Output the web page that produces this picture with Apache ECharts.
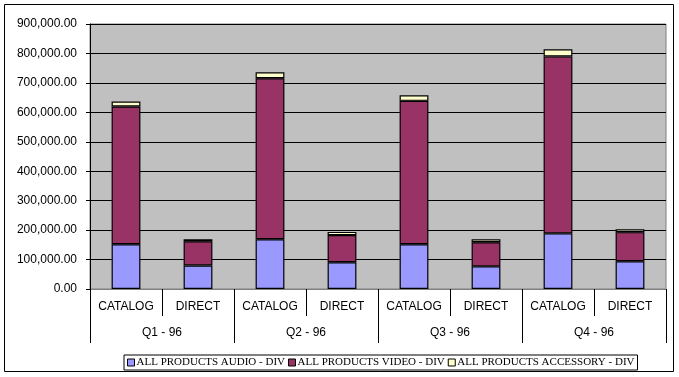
<!DOCTYPE html>
<html>
<head>
<meta charset="utf-8">
<script src="https://cdn.jsdelivr.net/npm/echarts@6/dist/echarts.min.js"></script>
<style>
  html, body { margin: 0; padding: 0; background: #fff; }
  #chart { width: 679px; height: 377px; }
</style>
</head>
<body>
<div id="chart"></div>
<script>
// channel per bar, quarter per pair of bars
var channels = ['CATALOG', 'DIRECT', 'CATALOG', 'DIRECT', 'CATALOG', 'DIRECT', 'CATALOG', 'DIRECT'];
var quarters = ['Q1 - 96', 'Q2 - 96', 'Q3 - 96', 'Q4 - 96'];

var audio     = [152000, 80000, 169000, 91000, 152000, 77000, 189000, 94000];
var video     = [468000, 82000, 547000, 92000, 487000, 82000, 601000, 99000];
var accessory = [17000, 7000, 20000, 11000, 19000, 10000, 24000, 10000];

var seriesNames = ['ALL PRODUCTS AUDIO - DIV', 'ALL PRODUCTS VIDEO - DIV', 'ALL PRODUCTS ACCESSORY - DIV'];
var seriesColors = ['#9999ff', '#993366', '#ffffcc'];

var labelFont = 'Arial, "Liberation Sans", sans-serif';

function fmt(v) {
    return v.toLocaleString('en-US', { minimumFractionDigits: 2, maximumFractionDigits: 2 });
}

function makeBar(name, data, color) {
    return {
        name: name,
        type: 'bar',
        stack: 'total',
        barWidth: '40%',
        data: data,
        itemStyle: {
            color: color,
            borderColor: '#000',
            borderWidth: 1.2
        }
    };
}

var chart = echarts.init(document.getElementById('chart'));
chart.setOption({
    animation: false,
    graphic: [{
        type: 'rect',
        shape: { x: 4.5, y: 4.5, width: 669, height: 367 },
        style: { fill: 'none', stroke: '#000', lineWidth: 1 },
        silent: true
    }],
    grid: {
        left: 90,
        right: 13,
        top: 24,
        bottom: 88,
        show: true,
        backgroundColor: '#c0c0c0',
        borderColor: '#808080',
        borderWidth: 1
    },
    legend: {
        bottom: 7,
        left: 124,
        itemWidth: 7,
        itemHeight: 7,
        itemGap: 3,
        icon: 'rect',
        padding: [2, 3, 2, 3],
        borderColor: '#000',
        borderWidth: 1,
        backgroundColor: '#fff',
        textStyle: {
            fontFamily: '"Times New Roman", "Liberation Serif", serif',
            fontSize: 11,
            color: '#000',
            padding: [0, 0, 0, -3]
        },
        itemStyle: { borderColor: '#000', borderWidth: 1 },
        data: seriesNames
    },
    xAxis: [
        {
            type: 'category',
            data: channels,
            position: 'bottom',
            axisLine: { lineStyle: { color: '#808080' } },
            axisTick: { show: true, interval: 0, length: 27, lineStyle: { color: '#000' } },
            axisLabel: {
                interval: 0,
                margin: 12,
                color: '#000',
                fontFamily: labelFont,
                fontSize: 12
            }
        },
        {
            type: 'category',
            data: quarters,
            position: 'bottom',
            axisLine: { show: false },
            axisTick: { show: true, interval: 0, length: 54, lineStyle: { color: '#000' } },
            axisLabel: {
                interval: 0,
                margin: 38,
                color: '#000',
                fontFamily: labelFont,
                fontSize: 12
            }
        }
    ],
    yAxis: {
        type: 'value',
        min: 0,
        max: 900000,
        interval: 100000,
        axisLine: { show: true, lineStyle: { color: '#000' } },
        axisTick: { show: true, length: 4, lineStyle: { color: '#000' } },
        axisLabel: {
            margin: 13,
            color: '#000',
            fontFamily: labelFont,
            fontSize: 12,
            formatter: fmt
        },
        splitLine: { lineStyle: { color: '#000', width: 1 } }
    },
    series: [
        makeBar(seriesNames[0], audio, seriesColors[0]),
        makeBar(seriesNames[1], video, seriesColors[1]),
        makeBar(seriesNames[2], accessory, seriesColors[2])
    ]
});
</script>
</body>
</html>
